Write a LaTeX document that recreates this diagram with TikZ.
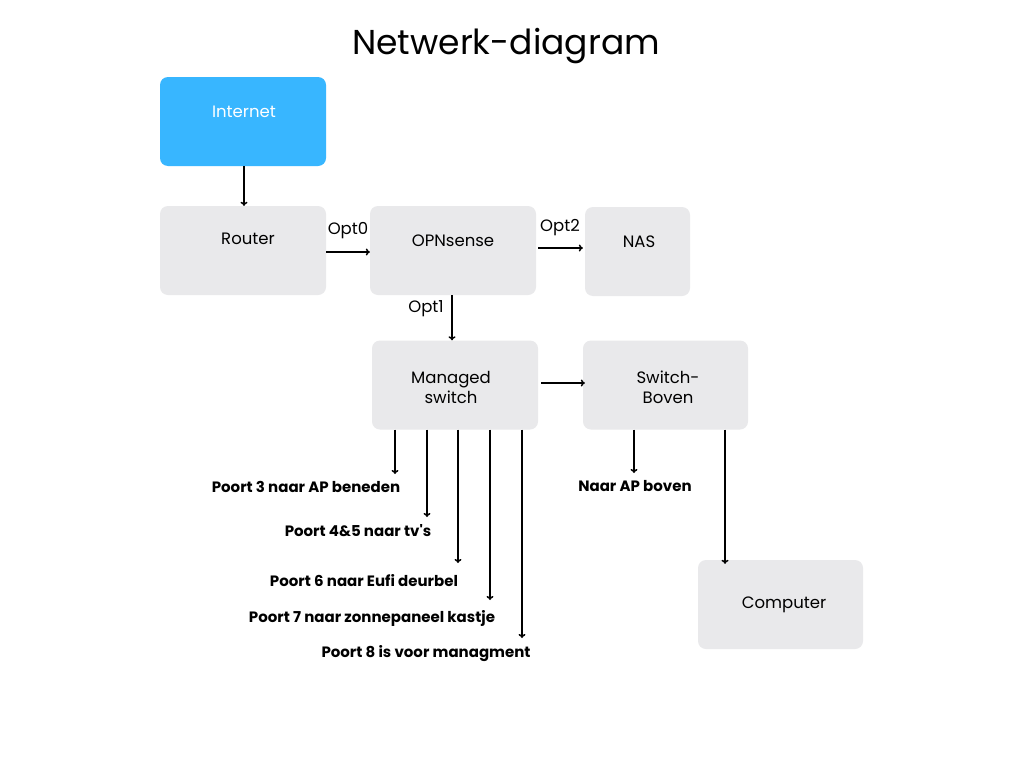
\documentclass[tikz,border=0pt]{standalone}
\usepackage{fontspec}
\setmainfont{Poppins}
\usetikzlibrary{arrows.meta}
\definecolor{netblue}{HTML}{38B6FF}
\definecolor{boxgray}{HTML}{E9E9EB}
\tikzset{
  box/.style={fill=boxgray,rounded corners=8pt,minimum width=166pt,
    minimum height=89pt,inner sep=0pt},
  lbl/.style={font=\fontsize{16.5}{20}\selectfont,align=center},
  poort/.style={font=\fontsize{15}{18}\selectfont\bfseries},
  arr/.style={-{To[length=4pt,width=7pt]},line width=1.5pt}
}
\begin{document}
\begin{tikzpicture}[x=1pt,y=-1pt]
  \useasboundingbox[fill=white] (0,0) rectangle (1024,768);
  \node[font=\fontsize{34.5}{40}\selectfont] (title) at (506,46) {Netwerk-diagram};

  % boxes
  \node[box,fill=netblue] (inet) at (243,121.5) {};
  \node[lbl,text=white] at (244,112) {Internet};
  \node[box] (router) at (243,250.5) {};
  \node[lbl] at (248,239) {Router};
  \node[box] (opn) at (453,250.5) {};
  \node[lbl] at (453,241) {OPNsense};
  \node[box,minimum width=105pt] (nas) at (637.5,251.5) {};
  \node[lbl] at (639,242) {NAS};
  \node[box] (ms) at (455,385) {};
  \node[lbl] at (451,387) {Managed\\switch};
  \node[box,minimum width=165pt] (sb) at (665.5,385) {};
  \node[lbl] at (668,387) {Switch-\\Boven};
  \node[box,minimum width=165pt] (comp) at (780.5,604.5) {};
  \node[lbl] at (784,605) {Computer};

  % links
  \draw[arr] (inet.south -| 244,0) -- (router.north -| 244,0);
  \draw[arr] (router.east |- 0,252) -- (opn.west |- 0,252);
  \node[lbl] at (348,231) {Opt0};
  \draw[arr] ([xshift=2pt]opn.east |- 0,248) -- ([xshift=-2pt]nas.west |- 0,248);
  \node[lbl] at (560,228) {Opt2};
  \draw[arr] (opn.south -| 452,0) -- (ms.north -| 452,0);
  \node[lbl] at (426,309) {Opt1};
  \draw[arr] ([xshift=3pt]ms.east |- 0,383) -- ([xshift=2pt]sb.west |- 0,383);

  % poorten
  \foreach \n/\x/\y in {3/395/474,45/427/517,6/458/563,7/490/600,8/522/638} {
    \coordinate (e\n) at (\x,\y);
    \draw[arr] (ms.south -| e\n) -- (e\n);
  }
  \node[poort] (p3) at (306,487) {Poort 3 naar AP beneden};
  \node[poort] (p45) at (358,531) {Poort 4\&5 naar tv\textquotesingle s};
  \node[poort] (p6) at (364,581) {Poort 6 naar Eufi deurbel};
  \node[poort] (p7) at (372,618) {Poort 7 naar zonnepaneel kastje};
  \node[poort] (p8) at (426,654) {Poort 8 is voor managment};

  \coordinate (eap) at (634,473);
  \draw[arr] (sb.south -| eap) -- (eap);
  \node[poort] (ap) at (635,486) {Naar AP boven};
  \draw[arr] (sb.south -| 725,0) -- ([yshift=-4pt]comp.north -| 725,0);
\end{tikzpicture}
\end{document}
